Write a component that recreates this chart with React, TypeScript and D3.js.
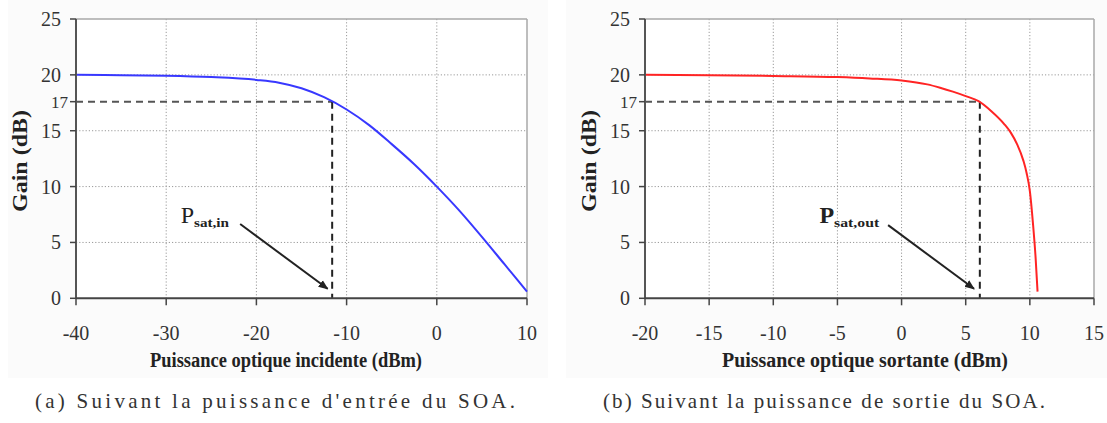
import React from "react";
import * as d3 from "d3";

// ---- Data ----
const PIN_X = [-40, -35, -30, -25, -20, -17.5, -15, -12.5, -10, -7.5, -5, -2.5, 0, 2.5, 5, 7.5, 10];
const GAIN_IN = [20, 19.97, 19.92, 19.8, 19.55, 19.3, 18.8, 18.0, 16.9, 15.5, 13.8, 12.0, 10.0, 7.85, 5.5, 3.05, 0.6];

const POUT_X = [-20, -15, -10, -5, -2.5, 0, 2, 3, 4, 5, 6, 7, 8, 8.5, 9, 9.5, 9.75, 10, 10.25, 10.45, 10.6];
const GAIN_OUT = [20, 19.97, 19.9, 19.8, 19.68, 19.5, 19.15, 18.85, 18.5, 18.1, 17.65, 16.75, 15.6, 14.85, 13.8, 12.3, 11.2, 9.6, 6.6, 3.6, 0.6];

const Y_TICKS = [0, 5, 10, 15, 20, 25];
const X_TICKS_IN = [-40, -30, -20, -10, 0, 10];
const X_TICKS_OUT = [-20, -15, -10, -5, 0, 5, 10, 15];

const SAT_GAIN = 17.6; // level of the dashed line, labelled "17"
const SAT_LABEL = "17";
const PSAT_IN = -11.6;
const PSAT_OUT = 6.1;

const ARROW_IN = [[-21.8, 6.65], [-12.1, 0.85]];
const ARROW_OUT = [[-1.05, 6.55], [5.65, 0.85]];
const LABEL_IN_POS = [-28.4, 6.75];
const LABEL_OUT_POS = [-6.4, 6.75];

const X_TITLE_IN = "Puissance optique incidente (dBm)";
const X_TITLE_OUT = "Puissance optique sortante (dBm)";
const Y_TITLE = "Gain (dB)";
const CAPTION_A = "(a) Suivant la puissance d'entrée du SOA.";
const CAPTION_B = "(b) Suivant la puissance de sortie du SOA.";

const SERIF = "'Liberation Serif', serif";

type PanelProps = {
  xs: number[];
  ys: number[];
  xDomain: [number, number];
  xRange: [number, number];
  xTicks: number[];
  color: string;
  psat: number;
  arrow: number[][];
  labelPos: number[];
  sub: string;
  subWidth: number;
  xTitle: string;
  xTitleCenter: number;
  xTitleWidth: number;
  yTitleX: number;
  id: string;
  boldP: boolean;
};

function Panel(p: PanelProps) {
  const x = d3.scaleLinear().domain(p.xDomain).range(p.xRange);
  const y = d3.scaleLinear().domain([0, 25]).range([298.3, 19]);
  const [x0, x1] = p.xRange;
  const y0 = y(0);
  const yTop = y(25);
  const line = d3
    .line<number>()
    .x((_, i) => x(p.xs[i]))
    .y((d) => y(d))
    .curve(d3.curveMonotoneX);
  const path = line(p.ys) || "";
  const [a0, a1] = p.arrow;
  const tf = { fontFamily: SERIF };
  return (
    <g>
      <defs>
        <marker id={"arr" + p.id} viewBox="0 0 10 10" refX="9" refY="5" markerWidth="5" markerHeight="5" orient="auto">
          <path d="M0,1 L10,5 L0,9 z" fill="#222" />
        </marker>
      </defs>
      <rect x={x0} y={yTop} width={x1 - x0} height={y0 - yTop} fill="#fff" />
      {Y_TICKS.filter((t) => t > 0 && t < 25).map((t) => (
        <line key={"gy" + t} x1={x0} x2={x1} y1={y(t)} y2={y(t)} stroke="#9a9a9a" strokeWidth={1} strokeDasharray="1.2,2" />
      ))}
      {p.xTicks.slice(1, -1).map((t) => (
        <line key={"gx" + t} x1={x(t)} x2={x(t)} y1={yTop} y2={y0} stroke="#9a9a9a" strokeWidth={1} strokeDasharray="1.2,2" />
      ))}
      <line x1={x0} x2={x1} y1={yTop} y2={yTop} stroke="#a8a8a8" strokeWidth={1.5} />
      <line x1={x1} x2={x1} y1={yTop} y2={y0} stroke="#a8a8a8" strokeWidth={1.5} />
      <line x1={x0} x2={x(p.psat)} y1={y(SAT_GAIN)} y2={y(SAT_GAIN)} stroke="#555" strokeWidth={2} strokeDasharray="7,5" />
      <line x1={x(p.psat)} x2={x(p.psat)} y1={y(SAT_GAIN)} y2={y0} stroke="#222" strokeWidth={2} strokeDasharray="7,5" />
      <path d={path} fill="none" stroke={p.color} strokeWidth={2} />
      <line x1={x0} x2={x0} y1={yTop} y2={y0} stroke="#555" strokeWidth={2} />
      <line x1={x0} x2={x1} y1={y0} y2={y0} stroke="#444" strokeWidth={2} />
      {Y_TICKS.map((t) => (
        <g key={"yt" + t}>
          <line x1={x0 - 6} x2={x0} y1={y(t)} y2={y(t)} stroke="#444" strokeWidth={1.5} />
          <text x={x0 - 15} y={y(t)} dy="0.35em" textAnchor="end" style={tf} fontSize={20} fill="#333">
            {t}
          </text>
        </g>
      ))}
      <line x1={x0 - 6} x2={x0} y1={y(SAT_GAIN)} y2={y(SAT_GAIN)} stroke="#444" strokeWidth={1.5} />
      <text x={x0 - 8} y={y(SAT_GAIN)} dy="0.35em" textAnchor="end" style={tf} fontSize={17} fill="#333">
        {SAT_LABEL}
      </text>
      {p.xTicks.map((t) => (
        <g key={"xt" + t}>
          <line x1={x(t)} x2={x(t)} y1={y0} y2={y0 + 7} stroke="#444" strokeWidth={1.5} />
          <text x={x(t)} y={340} textAnchor="middle" style={tf} fontSize={20} fill="#333">
            {t}
          </text>
        </g>
      ))}
      <text x={p.xTitleCenter} y={367} textAnchor="middle" style={tf} fontWeight="bold" fontSize={20} fill="#222" textLength={p.xTitleWidth} lengthAdjust="spacingAndGlyphs">
        {p.xTitle}
      </text>
      <text transform={`translate(${p.yTitleX},161) rotate(-90)`} textAnchor="middle" dy="0.35em" style={tf} fontWeight="bold" fontSize={21} fill="#222" textLength={102} lengthAdjust="spacingAndGlyphs">
        {Y_TITLE}
      </text>
      <line x1={x(a0[0])} y1={y(a0[1])} x2={x(a1[0])} y2={y(a1[1])} stroke="#222" strokeWidth={2} markerEnd={`url(#arr${p.id})`} />
      <text x={x(p.labelPos[0])} y={y(p.labelPos[1])} style={tf} fill="#222">
        <tspan fontSize={24} fontWeight={p.boldP ? "bold" : "normal"}>P</tspan>
        <tspan fontSize={13} fontWeight="bold" dy={4} textLength={p.subWidth} lengthAdjust="spacingAndGlyphs">{p.sub}</tspan>
      </text>
    </g>
  );
}

export default function App() {
  const tf = { fontFamily: SERIF };
  return (
    <svg width={1107} height={423} style={{ position: "absolute", left: 0, top: 0, background: "#fff" }}>
      <rect x={8} y={0} width={540} height={378} fill="#fbfbfb" />
      <rect x={566} y={0} width={541} height={378} fill="#fbfbfb" />
      <Panel
        id="a"
        xs={PIN_X}
        ys={GAIN_IN}
        xDomain={[-40, 10]}
        xRange={[76, 527]}
        xTicks={X_TICKS_IN}
        color="#3838ff"
        psat={PSAT_IN}
        arrow={ARROW_IN}
        labelPos={LABEL_IN_POS}
        sub="sat,in"
        subWidth={35}
        xTitle={X_TITLE_IN}
        xTitleCenter={286}
        xTitleWidth={272}
        yTitleX={20}
        boldP={false}
      />
      <Panel
        id="b"
        xs={POUT_X}
        ys={GAIN_OUT}
        xDomain={[-20, 15]}
        xRange={[645, 1094]}
        xTicks={X_TICKS_OUT}
        color="#ff2424"
        psat={PSAT_OUT}
        arrow={ARROW_OUT}
        labelPos={LABEL_OUT_POS}
        sub="sat,out"
        subWidth={45}
        xTitle={X_TITLE_OUT}
        xTitleCenter={865}
        xTitleWidth={286}
        yTitleX={589}
        boldP={true}
      />
      <text x={35} y={408} style={tf} fontSize={21} fill="#333" textLength={480} lengthAdjust="spacing">
        {CAPTION_A}
      </text>
      <text x={603} y={408} style={tf} fontSize={21} fill="#333" textLength={442} lengthAdjust="spacing">
        {CAPTION_B}
      </text>
    </svg>
  );
}
